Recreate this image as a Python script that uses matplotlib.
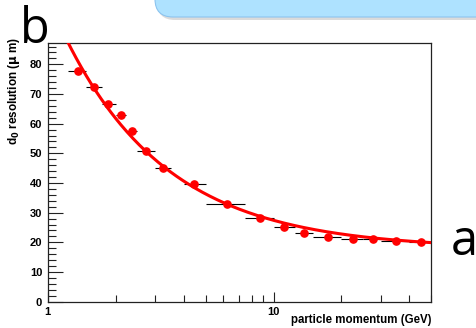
import matplotlib
matplotlib.use('Agg')
import matplotlib.pyplot as plt
import numpy as np
from matplotlib.patches import FancyBboxPatch
from matplotlib.ticker import MultipleLocator, FixedLocator, NullFormatter

# measured d0 resolution vs momentum, with momentum bin edges
p = [1.354, 1.605, 1.852, 2.109, 2.353, 2.72, 3.23, 4.45, 6.25, 8.73,
     11.15, 13.7, 17.5, 22.5, 27.5, 35.0, 44.8]
res = [77.8, 72.5, 66.7, 62.9, 57.7, 50.9, 44.9, 39.6, 32.8, 28.2,
       25.3, 23.1, 21.8, 21.2, 21.0, 20.5, 20.1]
p_lo = [1.23, 1.48, 1.74, 2.0, 2.23, 2.49, 3.0, 4.0, 5.0, 7.5,
        10.0, 12.5, 15.0, 20.0, 25.0, 30.0, 40.0]
p_hi = [1.48, 1.74, 2.0, 2.23, 2.49, 3.0, 3.5, 5.0, 7.5, 10.0,
        12.5, 15.0, 20.0, 25.0, 30.0, 40.0, 50.0]

# fit: a + b / p^c
fit_a, fit_b, fit_c = 17.8, 84.5, 0.943

bold = dict(family='Liberation Sans', weight='bold')

fig = plt.figure(figsize=(4.77, 3.28), dpi=100)
ax = fig.add_axes([0.1002, 0.0802, 0.8040, 0.7896])

xerr = [np.array(p) - np.array(p_lo), np.array(p_hi) - np.array(p)]
ax.errorbar(p, res, xerr=xerr, fmt='none', ecolor='black', elinewidth=0.8,
            capsize=0, zorder=2)
pf = np.logspace(np.log10(1.15), np.log10(50), 300)
ax.plot(pf, fit_a + fit_b / pf**fit_c, '-', color='red', lw=2.2, zorder=3)
ax.plot(p, res, 'o', color='red', ms=5.2, mec='red', zorder=4)

ax.set_xscale('log')
ax.set_xlim(1, 50)
ax.set_ylim(0, 87.3)
ax.yaxis.set_major_locator(MultipleLocator(10))
ax.yaxis.set_minor_locator(MultipleLocator(2))
ax.xaxis.set_major_locator(FixedLocator([1, 10]))
ax.xaxis.set_minor_locator(FixedLocator([2, 3, 4, 5, 6, 7, 8, 9, 20, 30, 40, 50]))
ax.xaxis.set_minor_formatter(NullFormatter())
ax.set_xticklabels(['1', '10'])
ax.tick_params(axis='both', which='both', direction='in', top=False, right=False,
               width=0.8, color='#222222')
ax.tick_params(axis='y', which='major', length=10.5, pad=4)
ax.tick_params(axis='y', which='minor', length=5.5)
ax.tick_params(axis='x', which='major', length=7, pad=4)
ax.tick_params(axis='x', which='minor', length=5)
for lab in ax.get_xticklabels() + ax.get_yticklabels():
    lab.set_fontproperties(bold)
    lab.set_fontsize(8)
for s in ax.spines.values():
    s.set_linewidth(0.9)
    s.set_color('#222222')

fig.text(0.9050, 0.006, 'particle momentum (GeV)', ha='right', va='bottom',
         fontsize=8.3, **bold)
fig.text(0.030, 0.887, 'd$_\\mathbf{0}$ resolution ($\\mathbf{\\mu}$ m)',
         rotation=90, ha='center', va='top', fontsize=8.5, **bold)

# rounded banner at the top edge
shadow = FancyBboxPatch((157, 308), 340, 40, boxstyle='round,pad=0,rounding_size=18',
                        transform=None, facecolor='#b0b0b0', edgecolor='none',
                        alpha=0.45, zorder=0)
banner = FancyBboxPatch((155, 311), 340, 40, boxstyle='round,pad=0,rounding_size=18',
                        transform=None, facecolor='#aee2ff', edgecolor='#8cc4ef',
                        lw=0.8, zorder=1)
fig.add_artist(shadow)
fig.add_artist(banner)

fig.text(0.042, 0.868, 'b', fontsize=35, family='Open Sans', ha='left', va='baseline')
fig.text(0.945, 0.222, 'a', fontsize=35, family='Open Sans', ha='left', va='baseline')

fig.savefig('out.png', dpi=100)
